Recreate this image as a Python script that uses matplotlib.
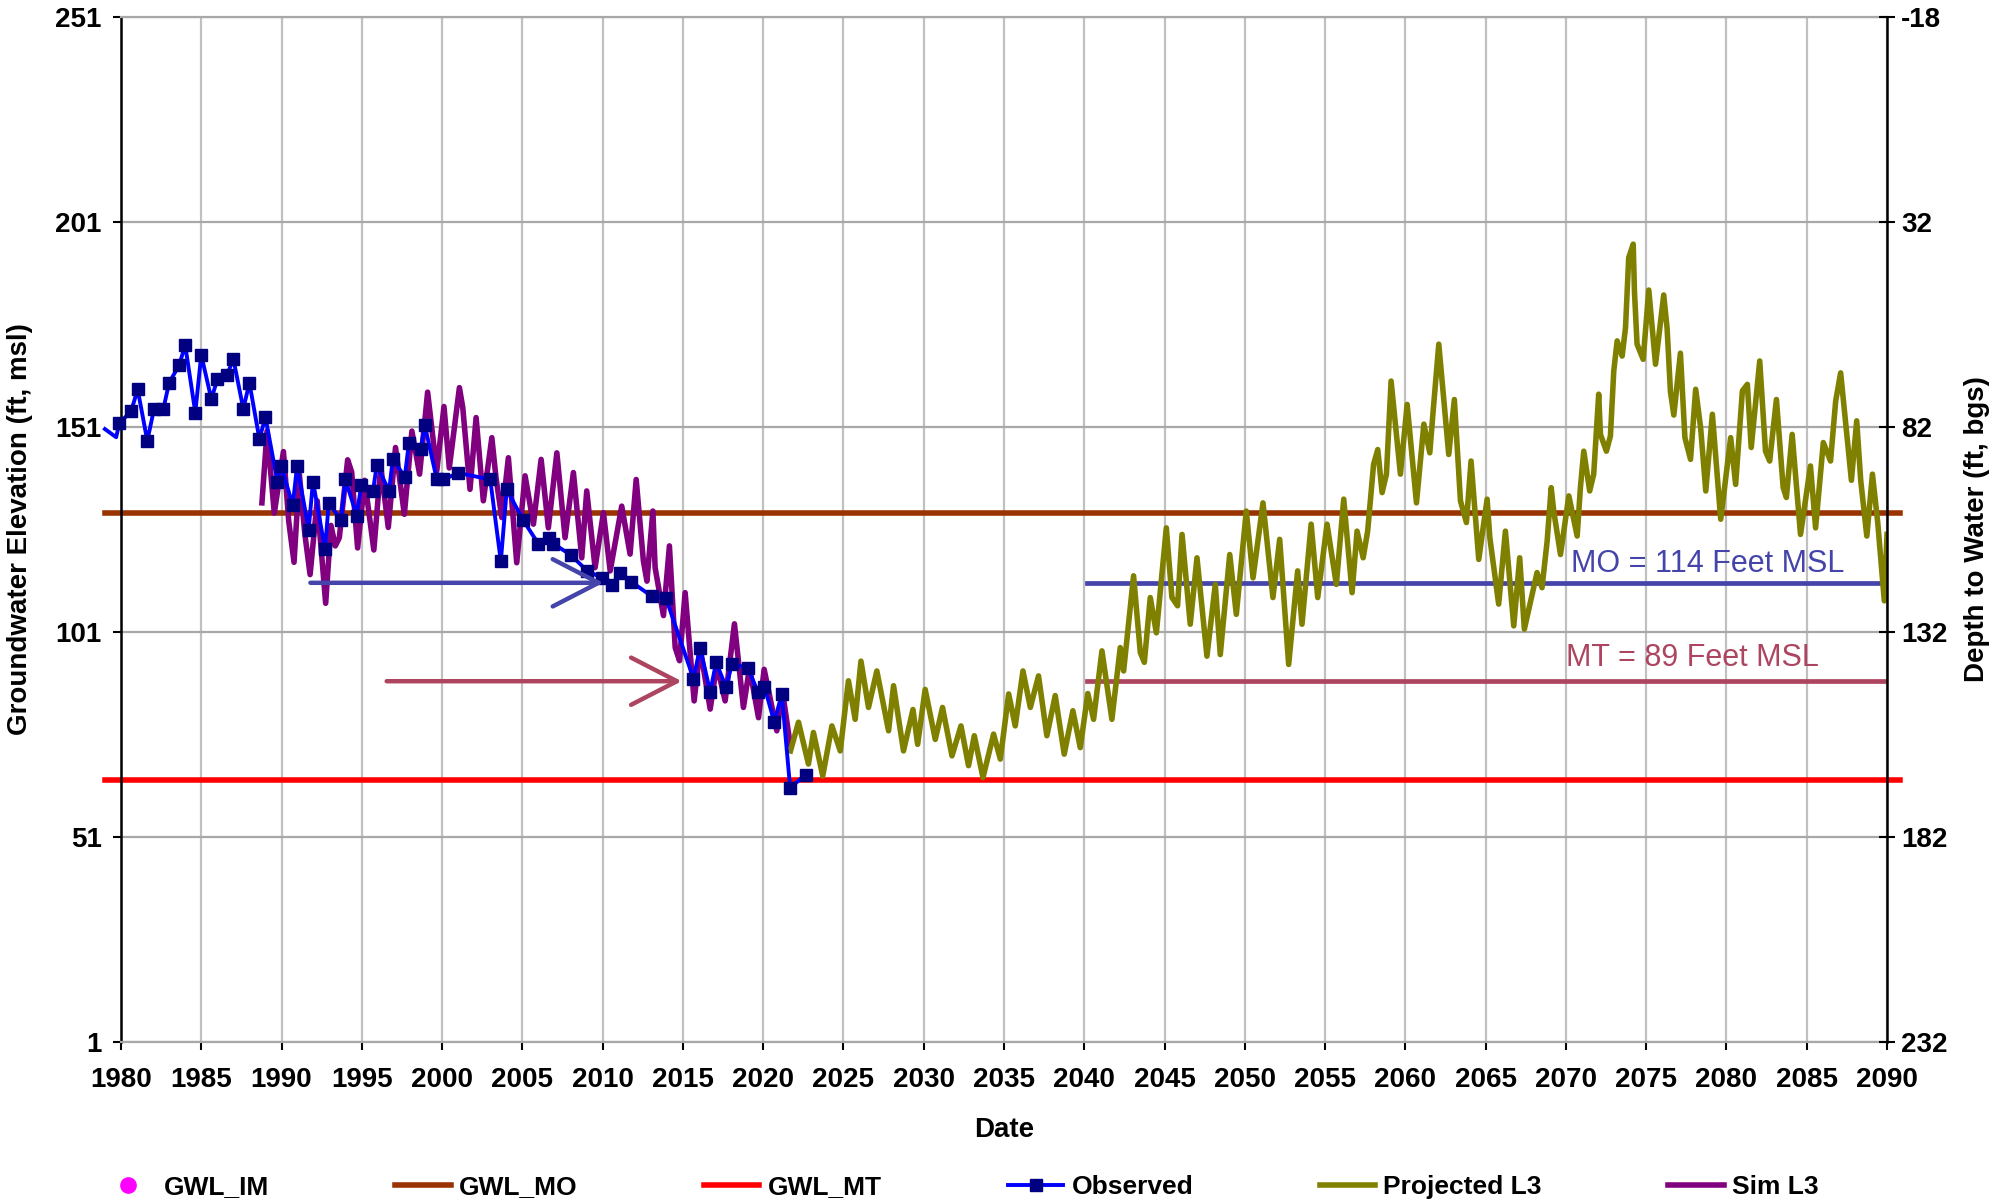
import numpy as np
import matplotlib.pyplot as plt

# ---- data ----
obs_years = [1979.0, 1979.7, 1979.9, 1980.64, 1981.04, 1981.64, 1982.06, 1982.64,
             1983.0, 1983.63, 1984.0, 1984.63, 1985.0, 1985.63, 1986.0, 1986.62,
             1987.0, 1987.62, 1988.0, 1988.62, 1989.0, 1989.74, 1989.97, 1990.70,
             1990.97, 1991.69, 1991.96, 1992.71, 1992.94, 1993.71, 1993.98, 1994.68,
             1994.97, 1995.70, 1995.93, 1996.70, 1996.93, 1997.68, 1997.93, 1998.67,
             1998.92, 1999.67, 2000.08, 2001.02, 2003.0, 2003.66, 2004.03, 2005.03,
             2006.0, 2006.67, 2006.94, 2008.02, 2009.01, 2009.99, 2010.57, 2011.09,
             2011.76, 2013.07, 2013.94, 2015.66, 2016.07, 2016.70, 2017.07, 2017.69,
             2018.05, 2019.04, 2019.67, 2020.08, 2020.69, 2021.16, 2021.68, 2022.64]
obs_elev = [150.5, 148.5, 151.9, 154.9, 160.2, 147.6, 155.4, 155.4,
            161.8, 166.1, 171.0, 154.5, 168.6, 157.8, 162.6, 163.8,
            167.6, 155.4, 161.8, 148.1, 153.4, 137.7, 141.6, 131.9,
            141.6, 126.0, 137.7, 121.2, 132.4, 128.4, 138.2, 129.4,
            136.8, 135.4, 141.7, 135.4, 143.2, 138.8, 147.1, 145.6,
            151.5, 138.2, 138.2, 139.8, 138.2, 118.2, 135.8, 128.4,
            122.5, 123.9, 122.5, 119.8, 116.0, 114.1, 112.5, 115.3,
            113.3, 109.7, 109.3, 89.6, 97.2, 86.4, 93.6, 87.5,
            93.2, 92.3, 86.4, 87.6, 79.1, 85.8, 63.0, 66.2]

sim_years = [1988.78, 1989.10, 1989.55, 1990.12, 1990.45, 1990.78, 1991.11, 1991.45,
             1991.78, 1992.22, 1992.75, 1993.08, 1993.35, 1993.60, 1994.12, 1994.37,
             1994.74, 1995.18, 1995.75, 1996.18, 1996.65, 1997.10, 1997.65, 1998.12,
             1998.60, 1999.10, 1999.67, 2000.12, 2000.45, 2001.08, 2001.29, 2001.74,
             2002.12, 2002.57, 2003.10, 2003.36, 2003.72, 2004.13, 2004.65, 2005.17,
             2005.69, 2006.17, 2006.62, 2007.15, 2007.66, 2008.18, 2008.70, 2009.01,
             2009.53, 2010.05, 2010.47, 2011.19, 2011.71, 2012.09, 2012.54, 2012.76,
             2013.13, 2013.27, 2013.79, 2014.16, 2014.52, 2014.79, 2015.14, 2015.70,
             2016.07, 2016.70, 2017.11, 2017.63, 2018.21, 2018.77, 2019.15, 2019.71,
             2020.06, 2020.85, 2021.20, 2021.68]
sim_elev = [132.5, 150.0, 130.0, 145.0, 128.0, 118.0, 139.5, 125.0,
            115.0, 133.0, 108.0, 127.0, 122.0, 124.0, 143.0, 140.0,
            121.5, 138.0, 121.0, 141.5, 126.5, 146.0, 129.7, 150.0,
            139.5, 159.5, 140.3, 156.0, 141.0, 160.6, 155.7, 135.8,
            153.3, 133.0, 148.4, 138.6, 128.9, 143.5, 117.9, 139.1,
            127.3, 143.1, 126.4, 144.7, 124.0, 139.9, 119.1, 135.4,
            116.7, 130.1, 115.9, 131.7, 120.0, 138.2, 118.3, 113.4,
            130.5, 116.7, 105.0, 122.0, 97.2, 94.0, 110.6, 84.2,
            97.2, 82.2, 93.1, 84.2, 103.0, 82.6, 92.3, 80.1,
            91.9, 76.9, 86.6, 73.6]

proj_years = [2021.70, 2022.20, 2022.82, 2023.13, 2023.71, 2024.28, 2024.80, 2025.31,
              2025.73, 2026.09, 2026.56, 2027.08, 2027.81, 2028.12, 2028.74, 2029.33,
              2029.62, 2030.09, 2030.72, 2031.17, 2031.76, 2032.32, 2032.79, 2033.15,
              2033.69, 2034.35, 2034.77, 2035.29, 2035.70, 2036.18, 2036.64, 2037.15,
              2037.67, 2038.19, 2038.75, 2039.29, 2039.75, 2040.22, 2040.58, 2041.10,
              2041.72, 2042.24, 2042.45, 2043.07, 2043.49, 2043.74, 2044.11, 2044.49,
              2045.11, 2045.46, 2045.81, 2046.09, 2046.60, 2047.02, 2047.64, 2048.16,
              2048.47, 2049.06, 2049.47, 2050.09, 2050.51, 2051.13, 2051.75, 2052.17,
              2052.73, 2053.29, 2053.56, 2054.13, 2054.54, 2055.12, 2055.70, 2056.16,
              2056.68, 2056.99, 2057.37, 2057.65, 2058.02, 2058.28, 2058.55, 2058.82,
              2059.11, 2059.69, 2060.11, 2060.69, 2061.15, 2061.52, 2061.73, 2062.08,
              2062.70, 2063.05, 2063.43, 2063.80, 2064.09, 2064.57, 2065.09, 2065.26,
              2065.81, 2066.23, 2066.75, 2067.12, 2067.41, 2068.20, 2068.51, 2068.83,
              2069.08, 2069.24, 2069.66, 2070.18, 2070.70, 2070.90, 2071.11, 2071.48,
              2071.73, 2072.04, 2072.15, 2072.52, 2072.77, 2072.98, 2073.19, 2073.50,
              2073.71, 2073.91, 2074.19, 2074.27, 2074.43, 2074.81, 2075.16, 2075.58,
              2076.09, 2076.30, 2076.51, 2076.72, 2077.13, 2077.41, 2077.76, 2078.08,
              2078.39, 2078.71, 2079.12, 2079.64, 2080.26, 2080.57, 2080.99, 2081.30,
              2081.54, 2082.07, 2082.43, 2082.69, 2083.11, 2083.53, 2083.73, 2084.09,
              2084.61, 2085.23, 2085.55, 2086.03, 2086.48, 2086.80, 2087.11, 2087.78,
              2088.11, 2088.36, 2088.74, 2089.09, 2089.42, 2089.83, 2090.0]
proj_elev = [72.0, 79.0, 68.8, 76.5, 65.9, 78.1, 72.0, 89.1,
             79.7, 93.9, 82.6, 91.5, 76.9, 87.9, 72.0, 82.1,
             73.6, 87.0, 74.8, 82.6, 70.8, 78.1, 68.4, 75.7,
             65.5, 76.1, 70.0, 85.9, 78.1, 91.5, 82.6, 90.3,
             75.7, 85.5, 71.2, 81.8, 72.8, 86.0, 79.7, 96.4,
             79.7, 97.2, 91.5, 114.7, 96.0, 93.6, 109.4, 100.8,
             126.4, 109.4, 107.4, 124.8, 102.9, 119.1, 95.1, 112.6,
             95.5, 119.9, 105.3, 130.5, 114.2, 132.5, 109.4, 123.6,
             93.1, 115.9, 102.9, 127.3, 109.4, 127.3, 112.6, 133.4,
             110.6, 125.6, 119.1, 125.6, 141.9, 145.5, 135.0, 139.5,
             162.2, 139.5, 156.5, 132.5, 151.7, 144.7, 154.9, 171.2,
             144.3, 157.7, 133.0, 127.7, 142.7, 118.7, 133.4, 124.0,
             107.8, 125.6, 102.5, 119.1, 101.7, 115.5, 111.8, 123.2,
             136.2, 130.5, 119.9, 134.2, 124.4, 136.2, 145.1, 135.4,
             139.5, 159.0, 149.2, 145.1, 148.8, 164.7, 172.0, 168.3,
             175.2, 192.3, 195.6, 183.8, 171.2, 167.5, 184.4, 166.3,
             183.2, 175.1, 159.6, 153.9, 169.0, 148.4, 143.1, 160.2,
             150.8, 135.4, 154.1, 128.5, 148.4, 137.0, 159.8, 161.4,
             146.0, 167.1, 145.1, 142.7, 157.7, 136.2, 133.8, 149.2,
             124.8, 141.5, 126.4, 147.2, 142.7, 157.3, 164.2, 138.0,
             152.5, 138.0, 124.4, 139.5, 127.7, 108.6, 124.8]

gwl_mo = 130      # brown threshold
gwl_mt = 65       # red threshold
mo_level = 113    # drawn level of the "MO = 114" line
mt_level = 89
mo_label = 'MO = 114 Feet MSL'
mt_label = 'MT = 89 Feet MSL'
mo_arrow = (1991.8, 2010.05)
mt_arrow = (1996.55, 2014.93)
target_span = (2040.15, 2090.0)
threshold_span = (1979.0, 2090.8)

x_ticks = list(range(1980, 2091, 5))
y_ticks = [1, 51, 101, 151, 201, 251]
depth_ticks = [232, 182, 132, 82, 32, -18]

plt.rcParams['font.family'] = ['Liberation Sans', 'DejaVu Sans']
plt.rcParams['font.weight'] = 'bold'
plt.rcParams['axes.labelweight'] = 'bold'
plt.rcParams['axes.unicode_minus'] = False

fig = plt.figure(figsize=(20.06, 12.03), dpi=100)
ax = fig.add_axes([0.0603, 0.1338, 0.8804, 0.8521])

im, = ax.plot([], [], 'o', color='#ff00ff', ms=11, label='GWL_IM')
mo, = ax.plot(threshold_span, [gwl_mo, gwl_mo], color='#993300', lw=4,
              label='GWL_MO', clip_on=False, zorder=2)
mt, = ax.plot(threshold_span, [gwl_mt, gwl_mt], color='#ff0000', lw=4,
              label='GWL_MT', clip_on=False, zorder=2)
ax.plot(target_span, [mo_level, mo_level], color='#4444aa', lw=3.4, zorder=2)
ax.plot(target_span, [mt_level, mt_level], color='#ad4560', lw=3.4, zorder=2)

sim, = ax.plot(sim_years, sim_elev, color='#800080', lw=4, label='Sim L3', zorder=3)
proj, = ax.plot(proj_years, proj_elev, color='#808000', lw=4, label='Projected L3', zorder=3)
obs, = ax.plot(obs_years, obs_elev, color='#0000ff', lw=2.8, marker='s', ms=8.5,
               mfc='#000080', mec='#000080', markevery=slice(2, None),
               label='Observed', clip_on=False, zorder=4)

ax.annotate('', xy=(mo_arrow[1], mo_level), xytext=(mo_arrow[0], mo_level),
            arrowprops=dict(arrowstyle='->,head_length=3.3,head_width=1.7',
                            mutation_scale=10, color='#4444aa', lw=3.2,
                            shrinkA=0, shrinkB=0), zorder=5)
ax.annotate('', xy=(mt_arrow[1], mt_level), xytext=(mt_arrow[0], mt_level),
            arrowprops=dict(arrowstyle='->,head_length=3.3,head_width=1.7',
                            mutation_scale=10, color='#ad4560', lw=3.2,
                            shrinkA=0, shrinkB=0), zorder=5)

ax.text(2070.3, 117.6, mo_label, color='#4444aa', fontsize=22,
        fontweight='normal', va='center', ha='left')
ax.text(2070.0, 94.7, mt_label, color='#ad4560', fontsize=22,
        fontweight='normal', va='center', ha='left')

ax.set_xlim(1980, 2090)
ax.set_ylim(1, 251)
ax.set_xticks(x_ticks)
ax.set_yticks(y_ticks)
ax.set_axisbelow(True)
ax.grid(axis='x', color='#c0c0c0', lw=1.6)
ax.grid(axis='y', color='#a8a8a8', lw=1.6)
ax.tick_params(axis='both', labelsize=20, direction='out', length=6, width=1.5)
ax.tick_params(axis='x', pad=12)
ax.tick_params(axis='y', pad=8)
for s in ['top', 'bottom']:
    ax.spines[s].set_color('#a8a8a8')
    ax.spines[s].set_linewidth(1.6)
ax.spines['left'].set_linewidth(1.8)
ax.spines['right'].set_visible(False)

ax.set_xlabel('Date', fontsize=20)
ax.xaxis.set_label_coords(0.5, -0.073)
ax.set_ylabel('Groundwater Elevation (ft, msl)', fontsize=20)
ax.yaxis.set_label_coords(-0.050, 0.5)

ax2 = ax.twinx()
ax2.set_ylim(232, -18)
ax2.set_yticks(depth_ticks)
ax2.tick_params(axis='y', labelsize=20, direction='inout', length=12, width=1.5, pad=4)
for s in ['top', 'bottom', 'left']:
    ax2.spines[s].set_visible(False)
ax2.spines['right'].set_linewidth(1.8)
ax2.set_ylabel('Depth to Water (ft, bgs)', fontsize=20, rotation=90)
ax2.yaxis.set_label_coords(1.0436, 0.5)

fig.legend([im, mo, mt, obs, proj, sim],
           ['GWL_IM', 'GWL_MO', 'GWL_MT', 'Observed', 'Projected L3', 'Sim L3'],
           loc='center left', bbox_to_anchor=(87 / 2006, 0.0133), ncol=6,
           frameon=False, prop={'size': 19, 'weight': 'bold'},
           handlelength=2.1, handletextpad=0.3, columnspacing=4.8, borderpad=0)

fig.savefig('out.png', dpi=100)
